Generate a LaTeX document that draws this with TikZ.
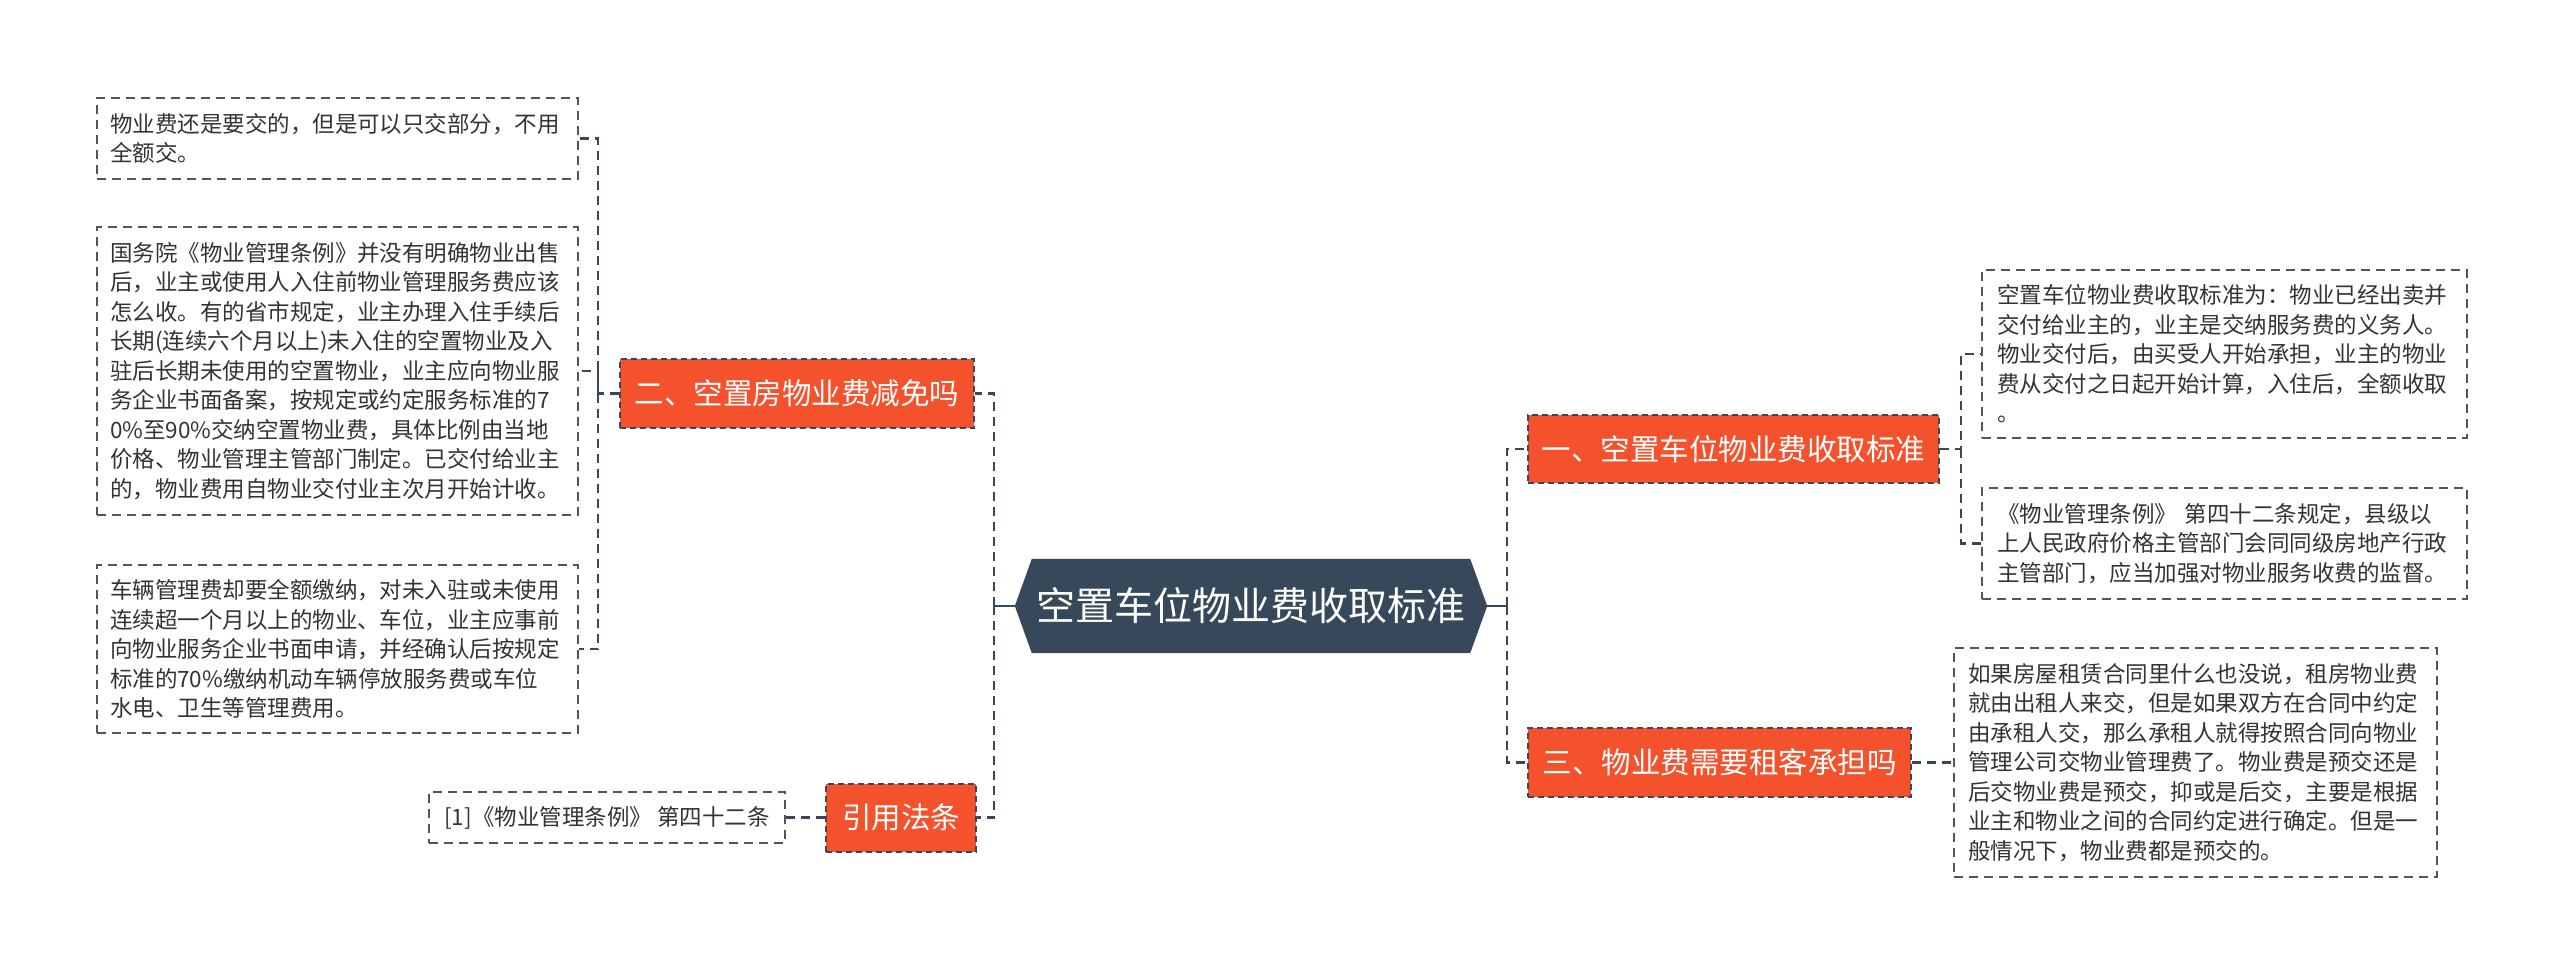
\documentclass[tikz,border=0pt]{standalone}
\usepackage{fontspec}
\setmainfont{Noto Sans CJK SC}
\usetikzlibrary{backgrounds}
\definecolor{slate}{HTML}{37485A}
\definecolor{orangered}{HTML}{F4522D}
\definecolor{leaftext}{HTML}{333333}
\definecolor{leafborder}{HTML}{555555}
\tikzset{
  conn/.style={draw=slate, line width=2.6pt, dash pattern=on 9pt off 6pt},
  solidconn/.style={draw=slate, line width=2.6pt},
  leaf/.style={draw=leafborder, line width=1.7pt, dash pattern=on 9pt off 6pt,
    text=leaftext, align=left, inner sep=0pt, text width=455pt,
    font=\fontsize{22.5}{29.5}\selectfont},
  plainleaf/.style={draw=leafborder, line width=1.7pt, dash pattern=on 9pt off 6pt,
    text=leaftext, inner sep=0pt, font=\fontsize{22.5}{29.5}\selectfont},
  branch/.style={fill=orangered, draw=slate, line width=2pt, dash pattern=on 6pt off 4pt,
    text=white, inner sep=0pt, font=\fontsize{29.5}{34}\selectfont},
  central/.style={inner sep=0pt, text=white, font=\fontsize{39}{44}\selectfont}
}
\begin{document}
\begin{tikzpicture}[x=1pt,y=-1pt]
\useasboundingbox (0,0) rectangle (2560,975);

% central node
\node[central, minimum width=472pt, minimum height=94pt] (C) at (1251,606) {空置车位物业费收取标准};
\begin{scope}[on background layer]
\fill[white] (0,0) rectangle (2560,975);
\fill[slate] (C.west) -- ([xshift=17pt]C.north west) -- ([xshift=-17pt]C.north east) -- (C.east) -- ([xshift=-17pt]C.south east) -- ([xshift=17pt]C.south west) -- cycle;
\end{scope}

% branch nodes
\node[branch, minimum width=354pt, minimum height=69pt] (B2) at (797,393.5) {二、空置房物业费减免吗};
\node[branch, minimum width=150pt, minimum height=68pt] (B4) at (901,817.5) {引用法条};
\node[branch, minimum width=411pt, minimum height=68pt] (B1) at (1733.5,449) {一、空置车位物业费收取标准};
\node[branch, minimum width=383pt, minimum height=69pt] (B3) at (1719.5,762.5) {三、物业费需要租客承担吗};

% left leaves
\node[leaf, minimum width=481pt, minimum height=81pt] (L1) at (337.5,138.5) {物业费还是要交的，但是可以只交部分，不用\\全额交。};
\node[leaf, minimum width=481pt, minimum height=288pt] (L2) at (337.5,371) {国务院《物业管理条例》并没有明确物业出售\\后，业主或使用人入住前物业管理服务费应该\\怎么收。有的省市规定，业主办理入住手续后\\长期(连续六个月以上)未入住的空置物业及入\\驻后长期未使用的空置物业，业主应向物业服\\务企业书面备案，按规定或约定服务标准的7\\0\%至90\%交纳空置物业费，具体比例由当地\\价格、物业管理主管部门制定。已交付给业主\\的，物业费用自物业交付业主次月开始计收。};
\node[leaf, minimum width=481pt, minimum height=168pt] (L3) at (337.5,649) {车辆管理费却要全额缴纳，对未入驻或未使用\\连续超一个月以上的物业、车位，业主应事前\\向物业服务企业书面申请，并经确认后按规定\\标准的70\%缴纳机动车辆停放服务费或车位\\水电、卫生等管理费用。};
\node[plainleaf, minimum width=356pt, minimum height=51pt] (L4) at (607,817.5) {[1]《物业管理条例》 第四十二条};

% right leaves
\node[leaf, minimum width=485pt, minimum height=168pt] (R1) at (2224.5,354) {空置车位物业费收取标准为：物业已经出卖并\\交付给业主的，业主是交纳服务费的义务人。\\物业交付后，由买受人开始承担，业主的物业\\费从交付之日起开始计算，入住后，全额收取\\。};
\node[leaf, minimum width=485pt, minimum height=111pt] (R2) at (2224.5,543.5) {《物业管理条例》 第四十二条规定，县级以\\上人民政府价格主管部门会同同级房地产行政\\主管部门，应当加强对物业服务收费的监督。};
\node[leaf, minimum width=483pt, minimum height=229pt] (R3) at (2195.5,762.5) {如果房屋租赁合同里什么也没说，租房物业费\\就由出租人来交，但是如果双方在合同中约定\\由承租人交，那么承租人就得按照合同向物业\\管理公司交物业管理费了。物业费是预交还是\\后交物业费是预交，抑或是后交，主要是根据\\业主和物业之间的合同约定进行确定。但是一\\般情况下，物业费都是预交的。};

% junction coordinates
\coordinate (jl) at (994,606);
\coordinate (jr) at (1507,606);
\coordinate (j2) at (598,393.5);
\coordinate (j1) at (1961,449);

% connectors
\draw[solidconn] (C.west) -- (jl);
\draw[solidconn] (C.east) -- (jr);
\draw[conn] (jl) |- (B2.east);
\draw[conn] (jl) |- (B4.east);
\draw[conn] (jr) |- (B1.west);
\draw[conn] (jr) |- (B3.west);
\draw[conn] (B2.west) -- (j2) |- (L1.east);
\draw[conn] (j2) |- (L2.east);
\draw[conn] (j2) |- (L3.east);
\draw[conn] (B4.west) -- (L4.east);
\draw[conn] (B1.east) -- (j1) |- (R1.west);
\draw[conn] (j1) |- (R2.west);
\draw[conn] (B3.east) -- (R3.west);
\end{tikzpicture}
\end{document}
